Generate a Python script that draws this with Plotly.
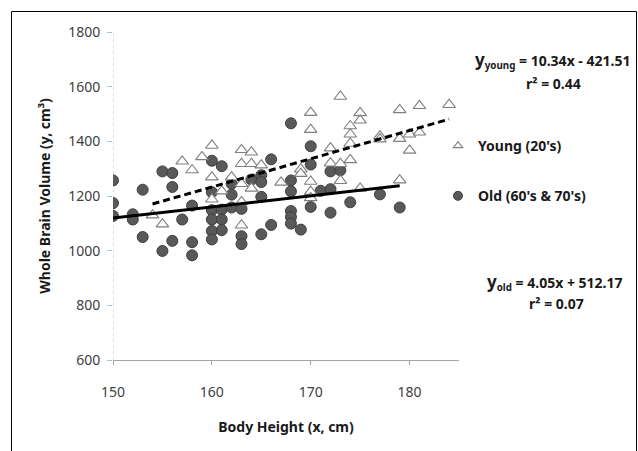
import plotly.graph_objects as go

# ---- data ----
old_x = [150, 150, 150, 152, 152, 153, 153, 155, 155, 156, 156, 156, 157, 158, 158, 158,
         160, 160, 160, 160, 160, 160, 161, 161, 161, 161, 162, 162, 162, 163, 163, 163,
         164, 165, 165, 165, 165, 166, 166, 168, 168, 168, 168, 168, 168, 169,
         170, 170, 170, 171, 172, 172, 172, 173, 174, 177, 179]
old_y = [1257, 1174, 1127, 1133, 1114, 1223, 1050, 1290, 999, 1284, 1233, 1036, 1114, 1165, 1031, 983,
         1329, 1214, 1148, 1114, 1072, 1041, 1309, 1150, 1114, 1075, 1245, 1205, 1158, 1153, 1053, 1024,
         1260, 1276, 1251, 1197, 1060, 1334, 1094, 1466, 1257, 1217, 1145, 1123, 1099, 1077,
         1382, 1315, 1160, 1219, 1290, 1225, 1139, 1294, 1177, 1206, 1158]

young_x = [154, 155, 157, 158, 159, 160, 160, 160, 161, 162, 163, 163, 163, 163, 163,
           164, 164, 164, 165, 167, 169, 169, 170, 170, 170, 170, 170, 172, 172,
           173, 173, 173, 174, 174, 174, 174, 175, 175, 175, 177, 177, 179, 179, 179,
           180, 180, 181, 181, 184]
young_y = [1130, 1097, 1327, 1295, 1343, 1385, 1269, 1188, 1218, 1269, 1369, 1318, 1245, 1178, 1093,
           1360, 1318, 1228, 1313, 1250, 1298, 1282, 1505, 1443, 1253, 1216, 1193, 1375, 1320,
           1564, 1318, 1256, 1456, 1426, 1392, 1332, 1504, 1477, 1228, 1419, 1408, 1515, 1410, 1258,
           1426, 1367, 1530, 1433, 1534]

young_fit = [10.34, -421.51]   # slope, intercept
old_fit = [4.05, 512.17]
young_r2 = 0.44
old_r2 = 0.07

young_label = "Young (20's)"
old_label = "Old (60's & 70's)"

x_ticks = [150, 160, 170, 180]
y_ticks = [600, 800, 1000, 1200, 1400, 1600, 1800]

# ---- layout geometry (page pixels) ----
W, H = 638, 451
PL, PR, PT, PB = 113, 459, 32, 360          # plot area edges on the page
L, T = PL, PT
R, B = W - PR, H - PB
PW, PH = PR - PL, PB - PT


def px(x):
    return (x - PL) / PW


def py(y):
    return (PB - y) / PH


FONT = "Noto Sans"

OLD_MARKER = dict(symbol="circle", color="#595959", line=dict(color="#3f3f3f", width=1))
YOUNG_MARKER = dict(symbol="triangle-up", color="white", line=dict(color="#7f7f7f", width=1.1))

fig = go.Figure()

fig.add_trace(go.Scatter(
    x=old_x, y=old_y, mode="markers", name=old_label, showlegend=False,
    marker=dict(size=11, **OLD_MARKER),
))
fig.add_trace(go.Scatter(
    x=young_x, y=young_y, mode="markers", name=young_label, showlegend=False,
    marker=dict(size=11, **YOUNG_MARKER),
))

yx = [min(young_x), max(young_x)]
fig.add_trace(go.Scatter(
    x=yx, y=[young_fit[0] * v + young_fit[1] for v in yx], mode="lines",
    showlegend=False, hoverinfo="skip",
    line=dict(color="black", width=3, dash="7px,4px"),
))
ox = [min(old_x), max(old_x)]
fig.add_trace(go.Scatter(
    x=ox, y=[old_fit[0] * v + old_fit[1] for v in ox], mode="lines",
    showlegend=False, hoverinfo="skip",
    line=dict(color="black", width=3),
))

# legend entries with the smaller legend symbols of the reference
fig.add_trace(go.Scatter(
    x=[None], y=[None], mode="markers", name=young_label,
    legendgroup="young", legendrank=1, marker=dict(size=8, **YOUNG_MARKER),
))
fig.add_trace(go.Scatter(
    x=[None], y=[None], mode="markers", name=old_label,
    legendgroup="old", legendrank=2, marker=dict(size=9, **OLD_MARKER),
))

tickfont = dict(family=FONT, size=14, color="#404040")
fig.update_xaxes(
    range=[150, 185], tickvals=x_ticks, showgrid=False, zeroline=False,
    showline=True, linecolor="#a6a6a6", linewidth=1,
    ticks="outside", ticklen=4, tickcolor="#a6a6a6",
    tickfont=tickfont, ticklabelstandoff=15,
    title=dict(text="<b>Body Height (x, cm)</b>", standoff=22,
               font=dict(family=FONT, size=14, color="#1a1a1a")),
)
fig.update_yaxes(
    range=[600, 1800], tickvals=y_ticks, showgrid=False, zeroline=False,
    showline=False, ticks="outside", ticklen=5, tickcolor="#9dc3e6",
    tickfont=tickfont, ticklabelstandoff=4,
    title=dict(text="<b>Whole Brain Volume (y, cm³)</b>", standoff=14,
               font=dict(family=FONT, size=14, color="#1a1a1a")),
)

shapes = [
    # dotted light-blue y axis line
    dict(type="line", xref="x", yref="y", x0=150, x1=150, y0=600, y1=1800,
         line=dict(color="#9dc3e6", width=1, dash="dot"), layer="below"),
    # chart border
    dict(type="rect", xref="paper", yref="paper",
         x0=px(11.5), x1=px(636.5), y0=py(455), y1=py(11.5),
         line=dict(color="black", width=1)),
]

afont = dict(family=FONT, size=14, color="#1a1a1a")
annotations = [
    dict(text="<b><span style='font-size:17px'>y</span><sub>young</sub> = %.2fx - %.2f</b>"
              % (young_fit[0], -young_fit[1]),
         x=px(552), y=py(60), xref="paper", yref="paper", xanchor="center", yanchor="middle",
         showarrow=False, font=afont),
    dict(text="<b>r² = %.2f</b>" % young_r2,
         x=px(553), y=py(83), xref="paper", yref="paper", xanchor="center", yanchor="middle",
         showarrow=False, font=afont),
    dict(text="<b><span style='font-size:17px'>y</span><sub>old</sub> = %.2fx + %.2f</b>"
              % (old_fit[0], old_fit[1]),
         x=px(555), y=py(282), xref="paper", yref="paper", xanchor="center", yanchor="middle",
         showarrow=False, font=afont),
    dict(text="<b>r² = %.2f</b>" % old_r2,
         x=px(556), y=py(303), xref="paper", yref="paper", xanchor="center", yanchor="middle",
         showarrow=False, font=afont),
]

fig.update_layout(
    width=W, height=H, margin=dict(l=L, r=R, t=T, b=B),
    paper_bgcolor="white", plot_bgcolor="white",
    font=dict(family=FONT),
    shapes=shapes, annotations=annotations,
    legend=dict(x=px(438), y=py(130), xanchor="left", yanchor="top",
                traceorder="grouped", tracegroupgap=29,
                font=dict(family=FONT, size=14, color="#1a1a1a", weight="bold"),
                bgcolor="rgba(0,0,0,0)", itemsizing="trace"),
    showlegend=True,
)

fig.write_html(
    "out.html",
    config={"displayModeBar": False},
    post_script="document.body.style.margin='0';document.body.style.overflow='hidden';",
)
